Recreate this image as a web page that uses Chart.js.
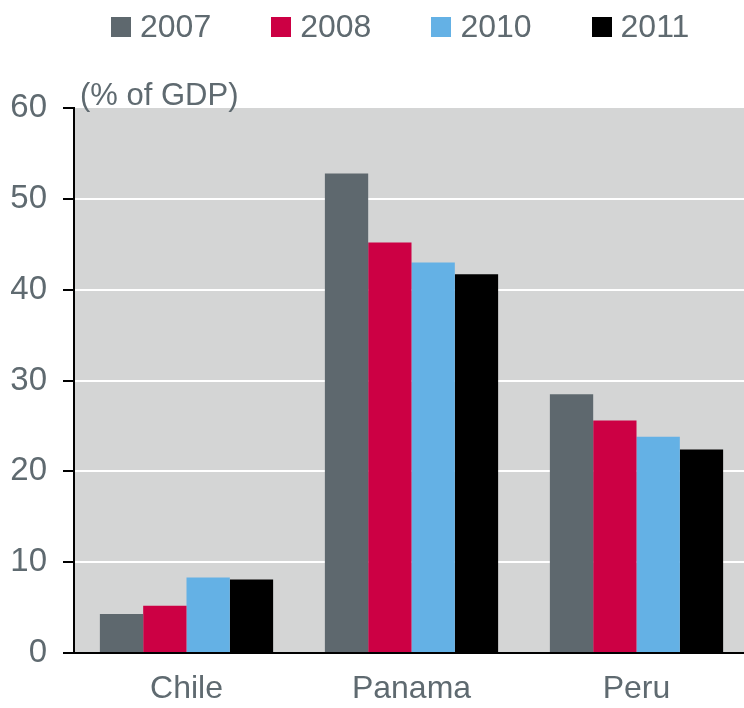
<!DOCTYPE html>
<html>
<head>
<meta charset="utf-8">
<script src="https://cdn.jsdelivr.net/npm/chart.js@4/dist/chart.umd.min.js"></script>
<style>
  body { margin: 0; background: #fff; }
  #wrap { position: relative; width: 744px; height: 708px; overflow: hidden; }
  #legend { position: absolute; left: 111px; top: 13px; display: flex; font-family: "Liberation Sans", Arial, sans-serif; font-size: 32px; color: #5f6a70; line-height: 26px; }
  #legend .item { display: flex; align-items: center; margin-right: 60px; }
  #legend .box { width: 20px; height: 20px; margin-right: 9px; margin-top: 2px; }
</style>
</head>
<body>
<div id="wrap">
  <canvas id="ctx"></canvas>
  <div id="legend"></div>
</div>
<script>
const years = ['2007', '2008', '2010', '2011'];
const countries = ['Chile', 'Panama', 'Peru'];
const v2007 = [4.3, 52.8, 28.5];
const v2008 = [5.2, 45.2, 25.6];
const v2010 = [8.3, 43.0, 23.8];
const v2011 = [8.1, 41.7, 22.4];
const yTicks = [0, 10, 20, 30, 40, 50, 60];
const unitLabel = '(% of GDP)';

const colors = ['#5e686e', '#cc0044', '#64b1e5', '#000000'];
const textColor = '#5f6a70';
const series = [v2007, v2008, v2010, v2011];

const canvas = document.getElementById('ctx');
canvas.width = 744;
canvas.height = 708;

// html legend
const legendDiv = document.getElementById('legend');
years.forEach((yr, i) => {
    let item = document.createElement('div');
    item.className = 'item';
    item.innerHTML = '<span class="box" style="background:' + colors[i] + '"></span><span>' + yr + '</span>';
    legendDiv.appendChild(item);
});

// plot area in the original runs a few px past the right edge
const widenArea = {
    id: 'widenArea',
    afterLayout(chart) {
        const x = chart.scales.x;
        x.right = 749;
        x.width = x.right - x.left;
        x.configure();
        chart.chartArea.right = 749;
        chart.chartArea.width = 749 - chart.chartArea.left;
    }
};

const plotBg = {
    id: 'plotBg',
    beforeDraw(chart) {
        const {ctx, chartArea: a} = chart;
        ctx.save();
        ctx.fillStyle = '#d4d5d5';
        ctx.fillRect(a.left, a.top, a.right - a.left, a.bottom - a.top);
        ctx.restore();
    },
    afterDraw(chart) {
        const {ctx, chartArea: a} = chart;
        ctx.save();
        ctx.font = '31px "Liberation Sans", Arial, sans-serif';
        ctx.fillStyle = textColor;
        ctx.textBaseline = 'middle';
        ctx.fillText(unitLabel, a.left + 6, a.top - 12);
        ctx.restore();
    }
};

let myChart = new Chart(canvas, {
    type: 'bar',
    data: {
        labels: countries,
        datasets: years.map((yr, i) => ({
            label: yr,
            data: series[i],
            backgroundColor: colors[i],
            borderWidth: 0,
            categoryPercentage: 0.77,
            barPercentage: 1
        }))
    },
    options: {
        responsive: false,
        animation: false,
        layout: { padding: { top: 108, bottom: 0, left: 0, right: 0 } },
        plugins: {
            legend: { display: false },
            tooltip: { enabled: false }
        },
        scales: {
            x: {
                afterFit: (scale) => { scale.height = 55; scale.paddingLeft = 0; scale.paddingRight = 0; },
                grid: { display: false, drawTicks: false },
                border: { display: true, color: '#000', width: 2 },
                ticks: {
                    color: textColor,
                    padding: 20,
                    font: { family: '"Liberation Sans", Arial, sans-serif', size: 32, lineHeight: 1 }
                }
            },
            y: {
                min: 0,
                max: 60,
                afterFit: (scale) => { scale.width = 74; scale.paddingTop = 0; scale.paddingBottom = 0; },
                afterBuildTicks: (scale) => { scale.ticks = yTicks.map(v => ({value: v})); },
                grid: {
                    color: (c) => (c.tick && (c.tick.value === 0 || c.tick.value === 60)) ? 'rgba(0,0,0,0)' : '#ffffff',
                    lineWidth: 2,
                    tickColor: '#000',
                    tickLength: 11,
                    tickWidth: 2
                },
                border: { display: true, color: '#000', width: 2 },
                ticks: {
                    color: textColor,
                    padding: 16,
                    font: { family: '"Liberation Sans", Arial, sans-serif', size: 33 }
                }
            }
        }
    },
    plugins: [widenArea, plotBg]
});
</script>
</body>
</html>
